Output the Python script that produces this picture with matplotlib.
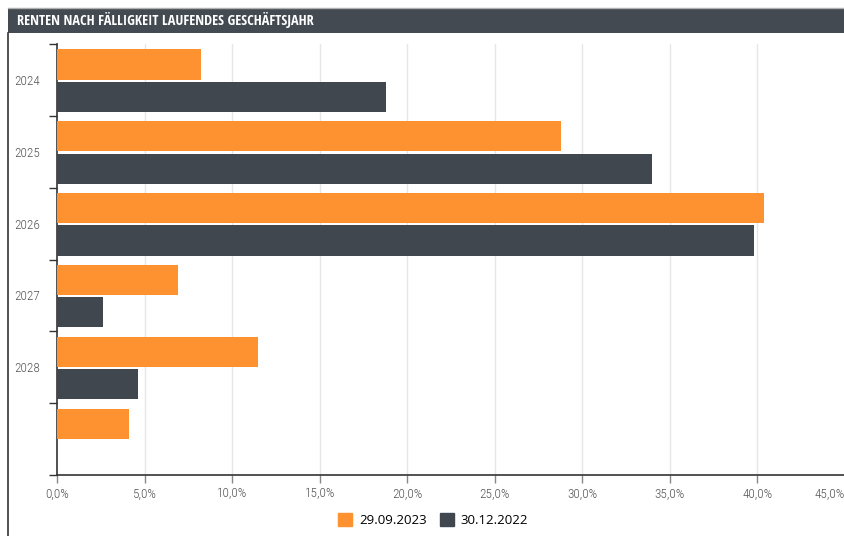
import matplotlib
matplotlib.use("Agg")
import matplotlib.pyplot as plt
from matplotlib.patches import Rectangle
from matplotlib.lines import Line2D
from matplotlib import font_manager as fm
import numpy as np

categories = ["2024", "2025", "2026", "2027", "2028", ""]
series_2023 = [8.2, 28.8, 40.4, 6.9, 11.5, 4.1]
series_2022 = [18.8, 34.0, 39.8, 2.6, 4.6, None]
label_2023 = "29.09.2023"
label_2022 = "30.12.2022"
title = "RENTEN NACH FÄLLIGKEIT LAUFENDES GESCHÄFTSJAHR"
xticks = [0, 5, 10, 15, 20, 25, 30, 35, 40, 45]

ORANGE = "#fe9230"
DARK = "#41474e"
W, H = 845, 536


def _w(f):
    w = f.weight
    if isinstance(w, str):
        w = fm.weight_dict.get(w, 400)
    return w


def light_condensed(size):
    for name in ["Open Sans Condensed", "Roboto Condensed", "Fira Sans Condensed", "Barlow Condensed"]:
        c = [f for f in fm.fontManager.ttflist
             if f.name == name and f.style == "normal" and _w(f) < 400]
        if c:
            c.sort(key=lambda f: abs(_w(f) - 300))
            return fm.FontProperties(fname=c[0].fname, size=size)
    return fm.FontProperties(family="DejaVu Sans", size=size * 0.9)


fig = plt.figure(figsize=(W / 100, H / 100), dpi=100)
narrow = ["Open Sans Condensed", "DejaVu Sans"]

# title bar
fig.patches.append(Rectangle((8 / W, 1 - 33 / H), 1 - 8 / W, 25 / H, transform=fig.transFigure,
                             facecolor="#434a51", edgecolor="none", zorder=0))
fig.lines.append(Line2D([8 / W, 1], [1 - 7.5 / H, 1 - 7.5 / H], transform=fig.transFigure,
                        color="#b0b0b0", lw=1))
fig.lines.append(Line2D([8.5 / W, 8.5 / W], [0, 1 - 33 / H], transform=fig.transFigure,
                        color="#333333", lw=1.2))
fig.text(17 / W, 1 - 20.5 / H, title, color="white", fontsize=10.3, fontweight="bold",
         family=narrow, va="center", ha="left")

ax = fig.add_axes([57 / W, 61 / H, 1 - 57 / W, 431 / H])
y = np.arange(len(categories))
h = 0.42
ax.barh(y - 0.215, series_2023, height=h, color=ORANGE, label=label_2023, zorder=3)
vals22 = [v if v is not None else 0 for v in series_2022]
ax.barh(y + 0.235, vals22, height=h, color=DARK, label=label_2022, zorder=3)

ax.set_xlim(0, 45)
ax.set_ylim(len(categories) - 0.5, -0.5)
ax.set_xticks(xticks)
xl = ax.set_xticklabels([f"{t:.1f}%".replace(".", ",") for t in xticks],
                        fontproperties=light_condensed(9.5), color="#555555")
xl[-1].set_horizontalalignment("right")
ax.set_yticks(y)
ax.set_yticklabels(categories, fontproperties=light_condensed(9.5), color="#555555")
ax.tick_params(axis="y", which="major", length=0, pad=12)
ax.set_yticks(np.arange(len(categories) + 1) - 0.5, minor=True)
ax.tick_params(axis="y", which="minor", length=6, color="#333333", width=1)
ax.tick_params(axis="x", length=6, color="#888888", width=1, pad=3)

for t in xticks[1:]:
    ax.axvline(t, color="#e6e6e6", lw=1, zorder=1)

for s in ["top", "right"]:
    ax.spines[s].set_visible(False)
ax.spines["left"].set_color("#333333")
ax.spines["bottom"].set_color("#333333")
ax.spines["left"].set_linewidth(1.2)
ax.spines["bottom"].set_linewidth(1.2)

handles = [Rectangle((0, 0), 1, 1, color=ORANGE), Rectangle((0, 0), 1, 1, color=DARK)]
fig.legend(handles, [label_2023, label_2022], loc="center", bbox_to_anchor=(433 / W, 1 - 520 / H),
           ncol=2, frameon=False, prop={"family": "Open Sans", "size": 9.5},
           handlelength=1.1, handleheight=1.1, handletextpad=0.5, columnspacing=1.0)

fig.savefig("out.png", dpi=100)
